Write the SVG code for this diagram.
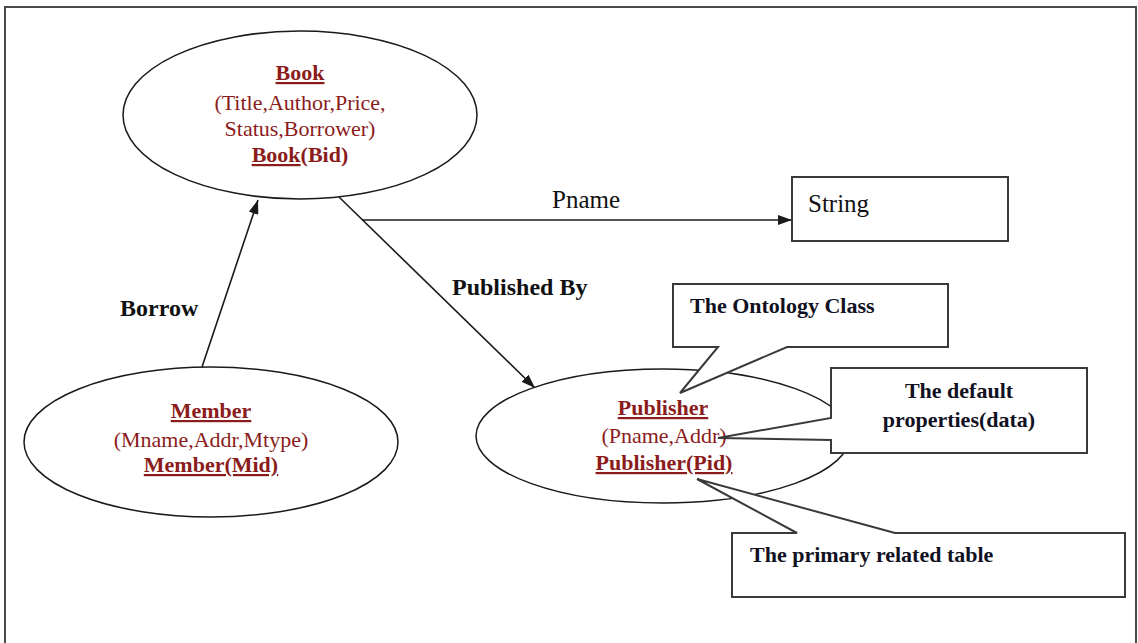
<svg xmlns="http://www.w3.org/2000/svg" width="1138" height="643" viewBox="0 0 1138 643">
  <style>
    .frame { fill: none; stroke: #4a4a4a; stroke-width: 2; }
    .ell { fill: #ffffff; stroke: #1a1a1a; stroke-width: 1.5; }
    .box { fill: #ffffff; stroke: #3a3a3a; stroke-width: 2; }
    .call { fill: #ffffff; stroke: #3a3a3a; stroke-width: 2; stroke-linejoin: miter; }
    .edge { fill: none; stroke: #1a1a1a; stroke-width: 1.6; }
    .cls { font-family: "Liberation Serif", "Times New Roman", serif; font-size: 22px; fill: #8b1c1c; text-anchor: middle; }
    .b { font-weight: bold; }
    .u { text-decoration: underline; }
    .lbl { font-family: "Liberation Serif", "Times New Roman", serif; font-size: 25px; fill: #111111; }
    .blbl { font-family: "Liberation Serif", "Times New Roman", serif; font-size: 24px; font-weight: bold; fill: #111111; }
    .ctext { font-family: "Liberation Serif", "Times New Roman", serif; font-size: 22px; font-weight: bold; fill: #111122; }
  </style>
  <defs>
    <marker id="arrow" viewBox="0 0 14 10" refX="14" refY="5" markerWidth="14" markerHeight="10" markerUnits="userSpaceOnUse" orient="auto">
      <path d="M0,0 L14,5 L0,10 Z" fill="#1a1a1a"/>
    </marker>
  </defs>

  <rect x="0" y="0" width="1138" height="643" fill="#ffffff"/>
  <!-- page frame (bottom edge runs off the canvas) -->
  <rect class="frame" x="5" y="7" width="1131" height="700"/>

  <!-- connectors -->
  <g id="connectors">
    <line class="edge" x1="202" y1="367" x2="258" y2="200" marker-end="url(#arrow)"/>
    <line class="edge" x1="339" y1="197" x2="535" y2="388" marker-end="url(#arrow)"/>
    <line class="edge" x1="362" y1="220" x2="792" y2="220" marker-end="url(#arrow)"/>
    <text class="blbl" x="120" y="316">Borrow</text>
    <text class="lbl" x="552" y="208">Pname</text>
    <text class="blbl" x="452" y="295">Published By</text>
  </g>

  <!-- Book class -->
  <g id="book">
    <ellipse class="ell" cx="300" cy="115" rx="177" ry="84"/>
    <text class="cls b u" x="300" y="80">Book</text>
    <text class="cls" x="300" y="110">(Title,Author,Price,</text>
    <text class="cls" x="300" y="136">Status,Borrower)</text>
    <text class="cls b" x="300" y="162"><tspan class="u">Book</tspan>(Bid)</text>
  </g>

  <!-- Member class -->
  <g id="member">
    <ellipse class="ell" cx="211" cy="442" rx="187" ry="75"/>
    <text class="cls b u" x="211" y="418">Member</text>
    <text class="cls" x="211" y="447">(Mname,Addr,Mtype)</text>
    <text class="cls b u" x="211" y="472">Member(Mid)</text>
  </g>

  <!-- String datatype -->
  <g id="string">
    <rect class="box" x="792" y="177" width="216" height="64"/>
    <text class="lbl" x="808" y="212">String</text>
  </g>

  <!-- Publisher class -->
  <g id="publisher">
    <ellipse class="ell" cx="663" cy="436" rx="187" ry="67"/>
    <text class="cls b u" x="663" y="415">Publisher</text>
    <text class="cls" x="664" y="443">(Pname,Addr)</text>
    <text class="cls b u" x="664" y="470">Publisher(Pid)</text>
  </g>

  <!-- callouts -->
  <g id="callout-class">
    <path class="call" d="M673,284 H948 V347 H787 L680,393 L718,347 H673 Z"/>
    <text class="ctext" x="690" y="313">The Ontology Class</text>
  </g>

  <g id="callout-properties">
    <path class="call" d="M831,368 H1087 V453 H831 V440 L718,438 L831,418 Z"/>
    <text class="ctext" x="959" y="398" text-anchor="middle">The default</text>
    <text class="ctext" x="959" y="427" text-anchor="middle">properties(data)</text>
  </g>

  <g id="callout-table">
    <path class="call" d="M732,533 H797 L697,479 L895,533 H1125 V597 H732 Z"/>
    <text class="ctext" x="750" y="562">The primary related table</text>
  </g>
</svg>
